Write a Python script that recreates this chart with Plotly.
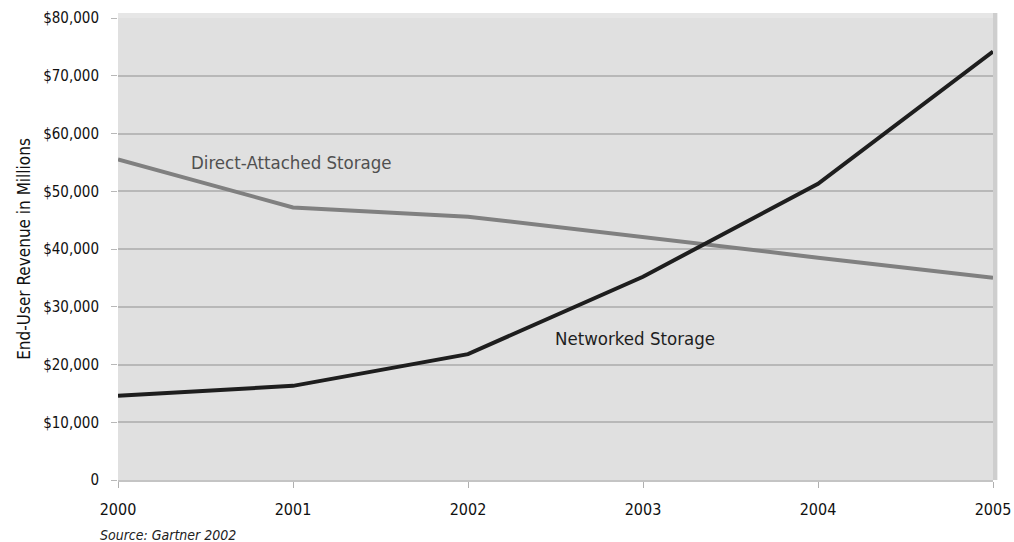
import plotly.graph_objects as go

years = [2000, 2001, 2002, 2003, 2004, 2005]
direct_attached = [55500, 47200, 45600, 42000, 38500, 35000]
networked = [14600, 16300, 21800, 35200, 51300, 74200]
y_ticks = [0, 10000, 20000, 30000, 40000, 50000, 60000, 70000, 80000]
y_tick_labels = ["0", "$10,000", "$20,000", "$30,000", "$40,000", "$50,000",
                 "$60,000", "$70,000", "$80,000"]

FONT = "DejaVu Sans Condensed, Liberation Sans Narrow, Arial Narrow, sans-serif"

fig = go.Figure()
fig.add_trace(go.Scatter(x=years, y=direct_attached, mode="lines",
                         line=dict(color="#808080", width=4),
                         name="Direct-Attached Storage", showlegend=False))
fig.add_trace(go.Scatter(x=years, y=networked, mode="lines",
                         line=dict(color="#1e1e1e", width=4),
                         name="Networked Storage", showlegend=False))

fig.add_annotation(x=2000.4, y=55000, text="Direct-Attached Storage", showarrow=False,
                   xanchor="left", yanchor="middle", xshift=1,
                   font=dict(family=FONT, size=18.5, color="#505050"))
fig.add_annotation(x=2002.5, y=24500, text="Networked Storage", showarrow=False,
                   xanchor="left", yanchor="middle", xshift=-3,
                   font=dict(family=FONT, size=18.5, color="#1e1e1e"))
fig.add_annotation(x=0, y=-0.12, xref="paper", yref="paper",
                   text="<i>Source: Gartner 2002</i>", showarrow=False,
                   xanchor="left", yanchor="middle", xshift=-20,
                   font=dict(family=FONT, size=14, color="#222"))

# subtle chart-frame shading (top edge and right-hand shadow)
fig.add_shape(type="rect", xref="paper", yref="paper", x0=0, x1=1, y0=1, y1=1.011,
              fillcolor="#e6e6e6", line=dict(width=0), layer="below")
fig.add_shape(type="rect", xref="paper", yref="paper", x0=1, x1=1.005, y0=0, y1=1.011,
              fillcolor="#cecece", line=dict(width=0), layer="below")

fig.update_layout(
    width=1014, height=542,
    margin=dict(l=118, r=21, t=18, b=62, autoexpand=False),
    paper_bgcolor="white", plot_bgcolor="#e0e0e0",
    font=dict(family=FONT, size=15, color="#111"),
    xaxis=dict(range=[2000, 2005], tickvals=years, ticktext=[str(y) for y in years],
               showgrid=False, zeroline=False, ticks="outside", ticklen=6,
               tickcolor="#b0b0b0", showline=True, linecolor="#c4c4c4", linewidth=2,
               automargin=False, ticklabelstandoff=8,
               tickfont=dict(family=FONT, size=16, color="#111")),
    yaxis=dict(range=[0, 80000], tickvals=y_ticks, ticktext=y_tick_labels,
               showgrid=True, gridcolor="#b8b8b8", gridwidth=1.5, zeroline=False,
               ticks="outside", ticklen=6, tickcolor="#b8b8b8",
               automargin=False, ticklabelstandoff=9,
               tickfont=dict(family=FONT, size=15, color="#111"),
               title=dict(text="End-User Revenue in Millions", standoff=8,
                          font=dict(family=FONT, size=17, color="#111"))),
)
fig.write_html("out.html")
